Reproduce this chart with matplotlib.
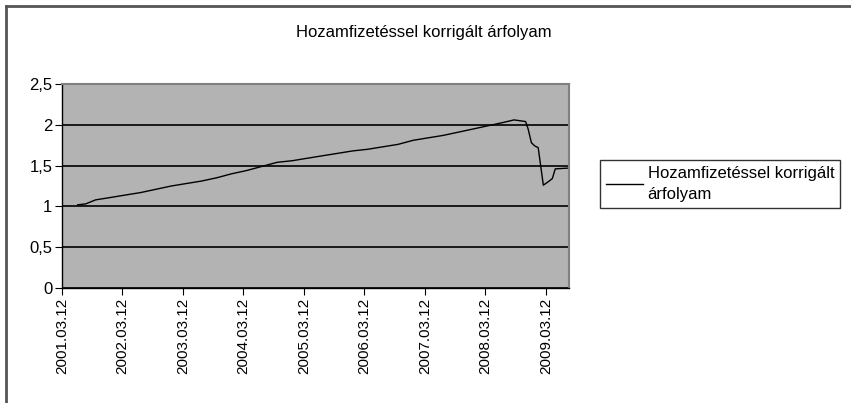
import datetime as dt
import matplotlib
matplotlib.use('Agg')
import matplotlib.pyplot as plt
import matplotlib.dates as mdates
from matplotlib.lines import Line2D

plt.rcParams['font.family'] = ['Liberation Sans', 'DejaVu Sans']

# adatok
datumok = ['2001-06-15', '2001-08-01', '2001-10-01', '2002-01-01', '2002-04-01',
           '2002-07-01', '2002-10-01', '2003-01-01', '2003-04-01', '2003-07-01',
           '2003-10-01', '2004-01-01', '2004-04-01', '2004-07-01', '2004-10-01',
           '2005-01-01', '2005-04-01', '2005-07-01', '2005-10-01', '2006-01-01',
           '2006-04-01', '2006-07-01', '2006-10-01', '2007-01-01', '2007-04-01',
           '2007-07-01', '2007-10-01', '2008-01-01', '2008-04-01', '2008-07-01',
           '2008-09-01', '2008-11-10', '2008-11-25', '2008-12-15', '2009-01-05',
           '2009-01-25', '2009-02-25', '2009-03-25', '2009-04-20', '2009-05-08',
           '2009-07-30']
arfolyam = [1.02, 1.03, 1.08, 1.11, 1.14,
            1.17, 1.21, 1.25, 1.28, 1.31,
            1.35, 1.40, 1.44, 1.49, 1.54,
            1.56, 1.59, 1.62, 1.65, 1.68,
            1.70, 1.73, 1.76, 1.81, 1.84,
            1.87, 1.91, 1.95, 1.99, 2.03,
            2.06, 2.04, 1.95, 1.78, 1.74,
            1.72, 1.26, 1.30, 1.34, 1.46,
            1.47]
tick_datumok = ['2001-03-12', '2002-03-12', '2003-03-12', '2004-03-12', '2005-03-12',
                '2006-03-12', '2007-03-12', '2008-03-12', '2009-03-12']
cim = 'Hozamfizetéssel korrigált árfolyam'
jelmagyarazat = 'Hozamfizetéssel korrigált\nárfolyam'

x = [dt.datetime.strptime(d, '%Y-%m-%d') for d in datumok]
xt = [dt.datetime.strptime(d, '%Y-%m-%d') for d in tick_datumok]

fig = plt.figure(figsize=(8.51, 4.03), dpi=100)
ax = fig.add_axes([62/851, 1-288/403, (569-62)/851, (288-84)/403])
ax.set_facecolor('#b3b3b3')

vonal, = ax.plot(x, arfolyam, color='black', lw=1.0)

ax.set_ylim(0, 2.5)
ax.set_yticks([0, 0.5, 1, 1.5, 2, 2.5])
ax.set_yticklabels(['0', '0,5', '1', '1,5', '2', '2,5'])
ax.set_xlim(xt[0], dt.datetime(2009, 7, 30))
ax.set_xticks(xt)
ax.xaxis.set_major_formatter(mdates.DateFormatter('%Y.%m.%d'))
ax.tick_params(axis='x', rotation=90, labelsize=11, length=5, direction='out', pad=2)
ax.tick_params(axis='y', labelsize=12, length=5, direction='out', pad=2)
ax.yaxis.grid(True, color='black', lw=1.2)
ax.set_axisbelow(True)

for s in ['top', 'right']:
    ax.spines[s].set_color('#808080')
    ax.spines[s].set_linewidth(1.5)
for s in ['left', 'bottom']:
    ax.spines[s].set_color('black')
    ax.spines[s].set_linewidth(1.0)

fig.text(424/851, 1-33/403, cim, ha='center', va='center', fontsize=12)

leg = fig.legend([vonal], [jelmagyarazat], loc='upper left',
                 bbox_to_anchor=(600/851, 1-160/403), fontsize=12,
                 frameon=True, fancybox=False, edgecolor='black',
                 handlelength=2.2, handletextpad=0.3, borderpad=0.35,
                 borderaxespad=0)
leg.get_frame().set_linewidth(1.0)
leg.get_texts()[0].set_linespacing(1.5)

# keret
fig.add_artist(Line2D([6/851, 6/851], [0, 1-6/403], color='#555555', lw=2))
fig.add_artist(Line2D([6/851, 1], [1-6/403, 1-6/403], color='#555555', lw=2))

plt.savefig('out.png', dpi=100)
plt.close()
